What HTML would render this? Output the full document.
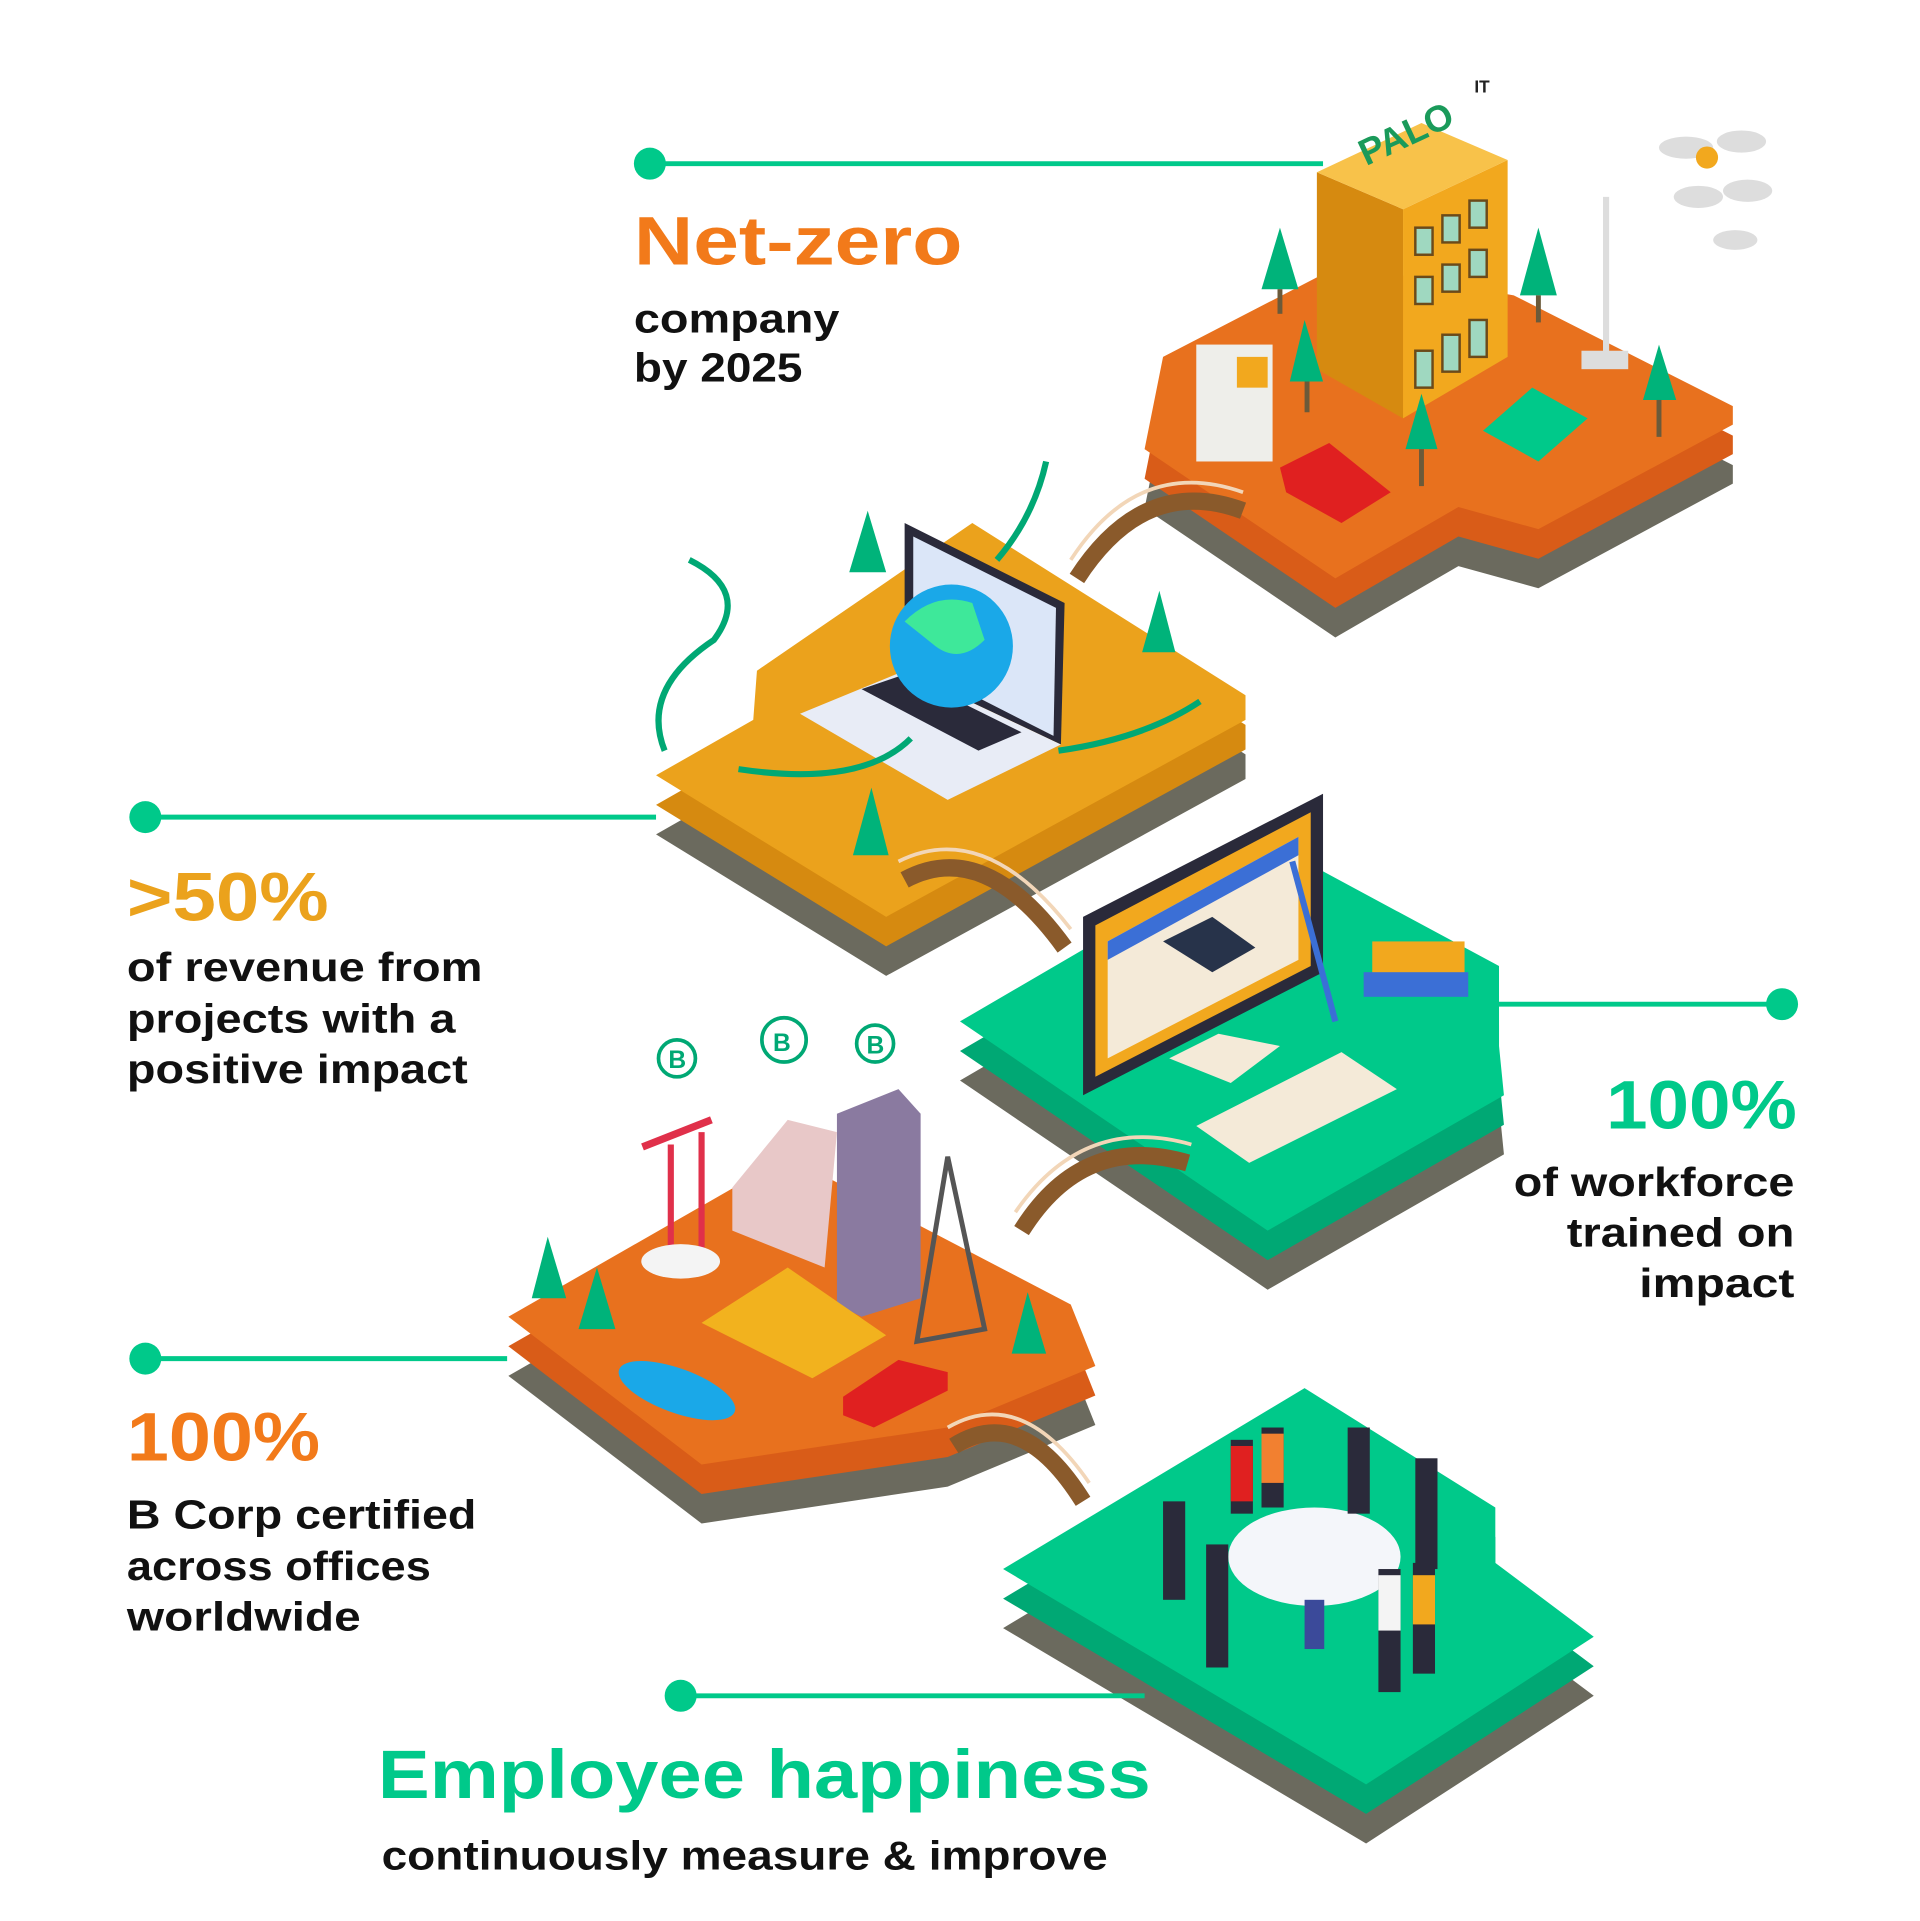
<!DOCTYPE html>
<html><head><meta charset="utf-8"><style>
html,body{margin:0;padding:0;background:#fff;}
svg{display:block;}
text{font-family:"Liberation Sans",sans-serif;font-weight:bold;}
</style></head><body>
<svg width="1920" height="1921" viewBox="0 0 1560 1561" xmlns="http://www.w3.org/2000/svg">
<rect width="1560" height="1561" fill="#fff"/>
<defs>
<path id="i1" d="M930,365 L945,290 L1090,215 L1230,240 L1408,330 L1408,345 L1250,430 L1185,412 L1085,470 Z"/>
<path id="i2" d="M533,630 L612,585 L615,545 L790,425 L1012,565 L1012,585 L720,745 Z"/>
<path id="i3" d="M780,830 L900,760 L1060,700 L1218,785 L1218,850 L1222,890 L1030,1000 Z"/>
<path id="i4" d="M413,1070 L640,940 L870,1060 L890,1110 L770,1160 L570,1190 Z"/>
<path id="i5" d="M815,1275 L1060,1128 L1215,1225 L1215,1270 L1295,1330 L1110,1450 Z"/>
</defs>
<use href="#i1" fill="#6b6a5e" transform="translate(0,48)"/>
<use href="#i1" fill="#d95c18" transform="translate(0,24)"/>
<use href="#i1" fill="#e8711e"/>
<use href="#i2" fill="#6b6a5e" transform="translate(0,48)"/>
<use href="#i2" fill="#d68a10" transform="translate(0,24)"/>
<use href="#i2" fill="#eba21c"/>
<use href="#i3" fill="#6b6a5e" transform="translate(0,48)"/>
<use href="#i3" fill="#00a874" transform="translate(0,24)"/>
<use href="#i3" fill="#00c98a"/>
<use href="#i4" fill="#6b6a5e" transform="translate(0,48)"/>
<use href="#i4" fill="#d95c18" transform="translate(0,24)"/>
<use href="#i4" fill="#e8711e"/>
<use href="#i5" fill="#6b6a5e" transform="translate(0,48)"/>
<use href="#i5" fill="#00a874" transform="translate(0,24)"/>
<use href="#i5" fill="#00c98a"/>

<g fill="none" stroke="#8a5a2b" stroke-width="14">
<path d="M875,470 Q930,385 1010,415"/>
<path d="M735,715 Q800,680 865,770"/>
<path d="M830,1000 Q880,920 965,945"/>
<path d="M775,1175 Q830,1140 880,1220"/>
</g>
<g fill="none" stroke="#f2d6b8" stroke-width="3">
<path d="M870,455 Q925,370 1010,400"/>
<path d="M730,700 Q800,665 870,755"/>
<path d="M825,985 Q880,905 968,930"/>
<path d="M770,1160 Q830,1125 885,1205"/>
</g>

<polygon points="1070,140 1140,170 1140,340 1070,300" fill="#d68a10"/>
<polygon points="1140,170 1225,130 1225,290 1140,340" fill="#f2a81e"/>
<polygon points="1070,140 1155,100 1225,130 1140,170" fill="#f8c24a"/>
<g fill="#9fd8c0" stroke="#6b4a1a" stroke-width="2">
<rect x="1150" y="185" width="14" height="22"/><rect x="1172" y="175" width="14" height="22"/><rect x="1194" y="163" width="14" height="22"/>
<rect x="1150" y="225" width="14" height="22"/><rect x="1172" y="215" width="14" height="22"/><rect x="1194" y="203" width="14" height="22"/>
<rect x="1150" y="285" width="14" height="30"/><rect x="1172" y="272" width="14" height="30"/><rect x="1194" y="260" width="14" height="30"/>
</g>
<text x="1110" y="135" font-size="30" fill="#1a9a5a" transform="rotate(-25 1110 135)">PALO</text>
<text x="1198" y="75" font-size="14" fill="#222">IT</text>
<rect x="972" y="280" width="62" height="95" fill="#eeeeea"/>
<rect x="1005" y="290" width="25" height="25" fill="#f2a81e"/>
<polygon points="1205,350 1245,315 1290,340 1250,375" fill="#00c98a"/>
<polygon points="1040,380 1080,360 1130,400 1090,425 1045,400" fill="#e02020"/>
<g fill="#00b37a"><polygon points="1040,185 1025,235 1055,235"/><polygon points="1250,185 1235,240 1265,240"/><polygon points="1060,260 1048,310 1075,310"/><polygon points="1155,320 1142,365 1168,365"/><polygon points="1348,280 1335,325 1362,325"/></g>
<g stroke="#6b5a3a" stroke-width="4"><line x1="1040" y1="235" x2="1040" y2="255"/><line x1="1250" y1="240" x2="1250" y2="262"/><line x1="1062" y1="310" x2="1062" y2="335"/><line x1="1155" y1="365" x2="1155" y2="395"/><line x1="1348" y1="325" x2="1348" y2="355"/></g>
<line x1="1305" y1="160" x2="1305" y2="290" stroke="#ddd" stroke-width="5"/>
<rect x="1285" y="285" width="38" height="15" fill="#ddd"/>
<g fill="#ddd"><ellipse cx="1370" cy="120" rx="22" ry="9"/><ellipse cx="1415" cy="115" rx="20" ry="9"/><ellipse cx="1380" cy="160" rx="20" ry="9"/><ellipse cx="1420" cy="155" rx="20" ry="9"/><ellipse cx="1410" cy="195" rx="18" ry="8"/></g>
<circle cx="1387" cy="128" r="9" fill="#f2a81e"/>

<polygon points="735,425 865,490 862,605 735,545" fill="#2a2a3a"/>
<polygon points="742,436 858,494 856,598 742,540" fill="#dbe6f8"/>
<polygon points="650,580 735,545 862,605 770,650" fill="#e8ecf6"/>
<polygon points="700,560 735,548 830,595 795,610" fill="#2a2a3a"/>
<circle cx="773" cy="525" r="50" fill="#1aa8e8"/>
<path d="M735,505 Q760,480 790,490 L800,520 Q780,540 760,525 Z" fill="#3ee89a"/>
<g fill="none" stroke="#00a874" stroke-width="5">
<path d="M540,610 Q520,560 580,520 Q610,480 560,455"/>
<path d="M600,625 Q700,640 740,600"/>
<path d="M860,610 Q930,600 975,570"/>
<path d="M810,455 Q840,420 850,375"/>
</g>
<g fill="#00b37a"><polygon points="705,415 690,465 720,465"/><polygon points="942,480 928,530 955,530"/><polygon points="708,640 693,695 722,695"/></g>

<polygon points="880,745 1075,645 1075,790 880,890" fill="#2a2a3a"/>
<polygon points="890,752 1065,660 1065,785 890,875" fill="#f2a81e"/>
<polygon points="900,765 1055,680 1055,780 900,860" fill="#f4ead8"/>
<polygon points="900,765 1055,680 1055,695 900,780" fill="#3b6fd6"/>
<polygon points="950,860 990,840 1040,850 1000,880" fill="#f4ead8"/>
<polygon points="972,915 1090,855 1135,885 1015,945" fill="#f4ead8"/>
<polygon points="945,765 985,745 1020,770 985,790" fill="#27334a"/>
<rect x="1115" y="765" width="75" height="35" fill="#f2a81e"/>
<rect x="1108" y="790" width="85" height="20" fill="#3b6fd6"/>
<line x1="1050" y1="700" x2="1085" y2="830" stroke="#3b6fd6" stroke-width="5"/>

<polygon points="680,905 730,885 748,905 748,1055 700,1070 680,1060" fill="#8a7aa0"/>
<polygon points="570,1075 640,1030 720,1085 660,1120" fill="#f2b21e"/>
<polygon points="595,965 640,910 680,920 670,1030 595,1000" fill="#e8c8c8"/>
<line x1="545" y1="930" x2="545" y2="1025" stroke="#e0304a" stroke-width="5"/>
<line x1="570" y1="920" x2="570" y2="1015" stroke="#e0304a" stroke-width="5"/>
<line x1="522" y1="932" x2="578" y2="910" stroke="#e0304a" stroke-width="6"/>
<ellipse cx="553" cy="1025" rx="32" ry="14" fill="#f4f4f4"/>
<polygon points="770,940 745,1090 800,1080" fill="none" stroke="#555" stroke-width="4"/>
<ellipse cx="550" cy="1130" rx="50" ry="18" fill="#1aa8e8" transform="rotate(20 550 1130)"/>
<polygon points="685,1135 730,1105 770,1115 770,1130 710,1160 685,1150" fill="#e02020"/>
<g fill="#00b37a"><polygon points="445,1005 432,1055 460,1055"/><polygon points="485,1030 470,1080 500,1080"/><polygon points="835,1050 822,1100 850,1100"/></g>
<g fill="none" stroke="#00a874" stroke-width="3"><circle cx="550" cy="860" r="15"/><circle cx="637" cy="845" r="18"/><circle cx="711" cy="848" r="15"/></g>
<g fill="#00a874" font-size="20"><text x="543" y="868">B</text><text x="628" y="854">B</text><text x="704" y="856">B</text></g>

<ellipse cx="1068" cy="1265" rx="70" ry="40" fill="#f4f6fa"/>
<rect x="1060" y="1300" width="16" height="40" fill="#3b4a9a"/>
<g fill="#2a2a3a">
<rect x="945" y="1220" width="18" height="80"/><rect x="980" y="1255" width="18" height="100"/><rect x="1000" y="1170" width="18" height="60"/><rect x="1025" y="1160" width="18" height="65"/><rect x="1095" y="1160" width="18" height="70"/><rect x="1150" y="1185" width="18" height="90"/><rect x="1120" y="1275" width="18" height="100"/><rect x="1148" y="1270" width="18" height="90"/>
</g>
<rect x="1000" y="1175" width="18" height="45" fill="#e02020"/><rect x="1025" y="1165" width="18" height="40" fill="#f28030"/><rect x="1120" y="1280" width="18" height="45" fill="#f4f4f4"/><rect x="1148" y="1280" width="18" height="40" fill="#f2a81e"/>

<g stroke="#00c98a" stroke-width="4" fill="#00c98a">
<line x1="528" y1="133" x2="1075" y2="133"/><circle cx="528" cy="133" r="13" stroke="none"/>
<line x1="118" y1="664" x2="533" y2="664"/><circle cx="118" cy="664" r="13" stroke="none"/>
<line x1="1218" y1="816" x2="1448" y2="816"/><circle cx="1448" cy="816" r="13" stroke="none"/>
<line x1="118" y1="1104" x2="412" y2="1104"/><circle cx="118" cy="1104" r="13" stroke="none"/>
<line x1="553" y1="1378" x2="930" y2="1378"/><circle cx="553" cy="1378" r="13" stroke="none"/>
</g>

<text x="515" y="215" font-size="56" fill="#f27a1a" textLength="267" lengthAdjust="spacingAndGlyphs">Net-zero</text>
<text x="515" y="270" font-size="33" fill="#111" textLength="167" lengthAdjust="spacingAndGlyphs">company</text>
<text x="515" y="310" font-size="33" fill="#111" textLength="137" lengthAdjust="spacingAndGlyphs">by 2025</text>

<text x="103" y="748" font-size="56" fill="#eba21c" textLength="164" lengthAdjust="spacingAndGlyphs">&gt;50%</text>
<text x="103" y="797" font-size="33" fill="#111" textLength="289" lengthAdjust="spacingAndGlyphs">of revenue from</text>
<text x="103" y="839" font-size="33" fill="#111" textLength="267" lengthAdjust="spacingAndGlyphs">projects with a</text>
<text x="103" y="880" font-size="33" fill="#111" textLength="277" lengthAdjust="spacingAndGlyphs">positive impact</text>

<text x="1305" y="917" font-size="56" fill="#00c98a" textLength="155" lengthAdjust="spacingAndGlyphs">100%</text>
<text x="1230" y="972" font-size="33" fill="#111" textLength="228" lengthAdjust="spacingAndGlyphs">of workforce</text>
<text x="1273" y="1013" font-size="33" fill="#111" textLength="185" lengthAdjust="spacingAndGlyphs">trained on</text>
<text x="1332" y="1054" font-size="33" fill="#111" textLength="126" lengthAdjust="spacingAndGlyphs">impact</text>

<text x="103" y="1187" font-size="56" fill="#f27a1a" textLength="157" lengthAdjust="spacingAndGlyphs">100%</text>
<text x="103" y="1242" font-size="33" fill="#111" textLength="284" lengthAdjust="spacingAndGlyphs">B Corp certified</text>
<text x="103" y="1284" font-size="33" fill="#111" textLength="247" lengthAdjust="spacingAndGlyphs">across offices</text>
<text x="103" y="1325" font-size="33" fill="#111" textLength="190" lengthAdjust="spacingAndGlyphs">worldwide</text>

<text x="307" y="1461" font-size="56" fill="#00c98a" textLength="628" lengthAdjust="spacingAndGlyphs">Employee happiness</text>
<text x="310" y="1519" font-size="33" fill="#111" textLength="590" lengthAdjust="spacingAndGlyphs">continuously measure &amp; improve</text>
</svg>
</body></html>
